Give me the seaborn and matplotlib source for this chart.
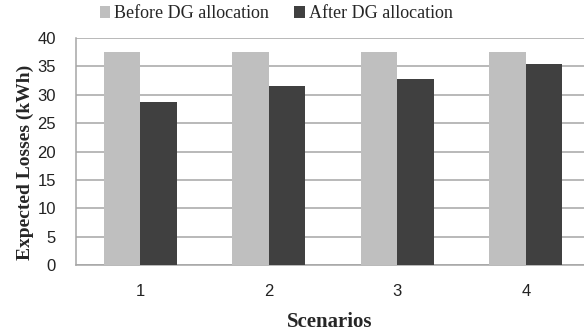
import pandas as pd
import matplotlib.pyplot as plt
import seaborn as sns
from matplotlib.font_manager import FontProperties

# values
scenarios = ["1", "2", "3", "4"]
before_dg = [37.6, 37.6, 37.6, 37.6]
after_dg = [28.8, 31.5, 32.8, 35.5]
series_names = ["Before DG allocation", "After DG allocation"]
y_ticks = [0, 5, 10, 15, 20, 25, 30, 35, 40]

df = pd.DataFrame({
    "Scenario": scenarios * 2,
    "Losses": before_dg + after_dg,
    "Case": [series_names[0]] * 4 + [series_names[1]] * 4,
})

sns.set_style("white")
fig = plt.figure(figsize=(5.84, 3.36), dpi=100)
ax = fig.add_axes([76 / 584, 71 / 336, 508 / 584, 227 / 336])

sns.barplot(data=df, x="Scenario", y="Losses", hue="Case", order=scenarios,
            hue_order=series_names, palette=["#bfbfbf", "#404040"],
            width=0.57, saturation=1, linewidth=0, ax=ax, zorder=3)

ax.set_ylim(0, 40)
ax.set_yticks(y_ticks)
ax.set_xlim(-0.5, 3.453)
ax.yaxis.grid(True, color="#a6a6a6", linewidth=1.1, zorder=0)
ax.set_axisbelow(True)

for s in ["top", "right"]:
    ax.spines[s].set_visible(False)
ax.spines["left"].set_color("#a6a6a6")
ax.spines["bottom"].set_color("#a6a6a6")
ax.spines["left"].set_linewidth(1.1)
ax.spines["bottom"].set_linewidth(1.1)

# x ticks sit between categories, labels centered
ax.set_xticks([0.5, 1.5, 2.5], minor=False)
ax.set_xticklabels([])
ax.set_xticks([0, 1, 2, 3], minor=True)
ax.set_xticklabels(scenarios, minor=True)
ax.tick_params(axis="x", which="major", direction="out", length=5, color="#a6a6a6", width=1.1)
ax.tick_params(axis="x", which="minor", length=0, pad=14)
ax.tick_params(axis="y", direction="out", length=5.5, color="#a6a6a6", width=1.1, pad=9)
for lab in ax.get_xticklabels(minor=True) + ax.get_yticklabels():
    lab.set_family("Liberation Sans")
    lab.set_fontsize(12)
    lab.set_color("#222222")

ax.set_xlabel("Scenarios", family="Liberation Serif", fontweight="bold", fontsize=15, labelpad=9)
ax.set_ylabel("Expected Losses (kWh)", family="Liberation Serif", fontweight="bold", fontsize=14)
ax.yaxis.set_label_coords(-0.083, 0.454)

handles, labels = ax.get_legend_handles_labels()
ax.get_legend().remove()
legend_font = FontProperties(family="Liberation Serif", size=13)
fig.legend(handles, labels, loc="center", bbox_to_anchor=(276 / 584, 1 - 14 / 336), ncol=2,
           frameon=False, prop=legend_font,
           handlelength=0.6, handleheight=0.6, handletextpad=0.2, columnspacing=1.4)

plt.savefig("out.png", dpi=100)
